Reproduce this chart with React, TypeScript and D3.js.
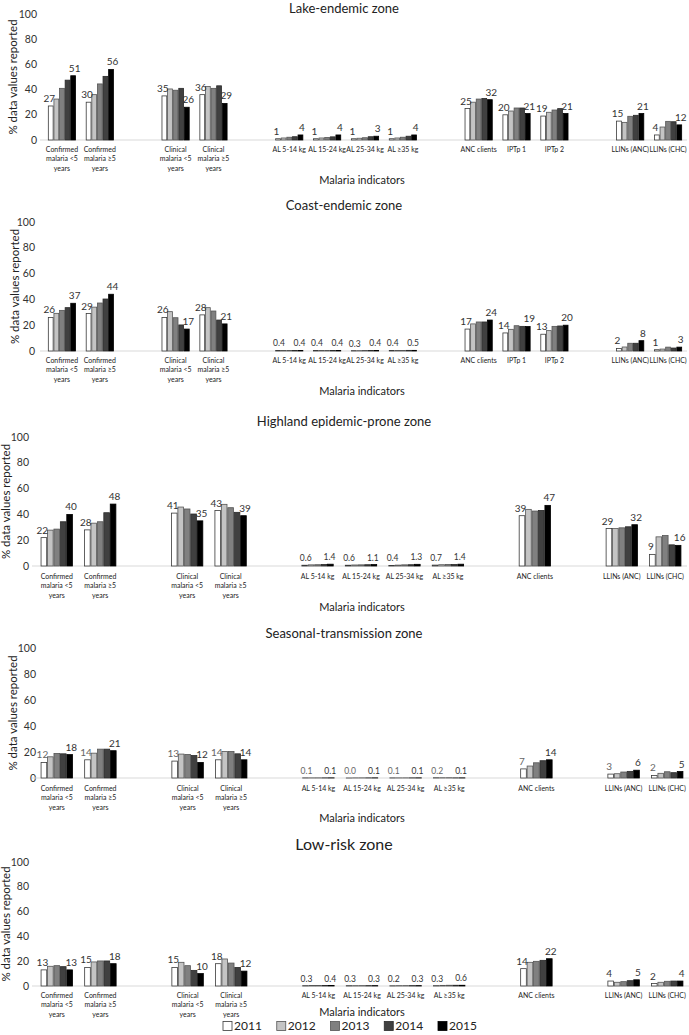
import React from "react";
import * as d3 from "d3";

const years = ["2011", "2012", "2013", "2014", "2015"];
const yearFill = ["#ffffff", "#c4c4c4", "#808080", "#404040", "#000000"];
const yearStroke = ["#3a3a3a", "#555555", "#555555", "#2a2a2a", "#000000"];

// null = gap slot between indicator groups
const categoriesFull: (string | null)[] = [
  "Confirmed\nmalaria <5\nyears", "Confirmed\nmalaria ≥5\nyears", null,
  "Clinical\nmalaria <5\nyears", "Clinical\nmalaria ≥5\nyears", null,
  "AL 5-14 kg", "AL 15-24 kg", "AL 25-34 kg", "AL ≥35 kg", null,
  "ANC clients", "IPTp 1", "IPTp 2", null,
  "LLINs (ANC)", "LLINs (CHC)",
];
const categoriesShort: (string | null)[] = [
  "Confirmed\nmalaria <5\nyears", "Confirmed\nmalaria ≥5\nyears", null,
  "Clinical\nmalaria <5\nyears", "Clinical\nmalaria ≥5\nyears", null,
  "AL 5-14 kg", "AL 15-24 kg", "AL 25-34 kg", "AL ≥35 kg", null,
  "ANC clients", null,
  "LLINs (ANC)", "LLINs (CHC)",
];

const yTicks = [0, 20, 40, 60, 80, 100];

// values per indicator: [2011, 2012, 2013, 2014, 2015]
const lakeValues = [
  [27, 32.5, 41, 47.5, 51], [30, 36, 44.5, 50.5, 56],
  [35, 40.5, 39.5, 41, 26], [36, 42.5, 41, 43, 29],
  [1, 1.6, 2.2, 2.6, 4], [1, 1.6, 2, 2.5, 4], [1, 1.4, 1.8, 2.6, 3], [1, 1.6, 2.2, 3, 4],
  [25, 30, 32.5, 33, 32], [20, 23, 25.4, 25.4, 21], [19, 22, 23.8, 24.9, 21],
  [15, 14, 18.8, 19.6, 21], [4, 10.3, 14.8, 14.5, 12],
];
const coastValues = [
  [26, 29.2, 31.5, 33.6, 37], [29, 34, 37.2, 40.3, 44],
  [26, 30.5, 25.8, 20.2, 17], [28, 33.6, 31, 24, 21],
  [0.4, 0.4, 0.4, 0.4, 0.4], [0.4, 0.4, 0.4, 0.4, 0.4], [0.3, 0.3, 0.4, 0.4, 0.4], [0.4, 0.4, 0.4, 0.5, 0.5],
  [17, 21, 22.5, 22.5, 24], [14, 16.8, 19.6, 19.1, 19], [13, 15.8, 19.1, 19.4, 20],
  [2, 3.1, 6, 6, 8], [1, 1.5, 3, 2.3, 3],
];
const highlandValues = [
  [22, 27.8, 28.6, 34.3, 40], [28, 33.2, 34.3, 41.3, 48],
  [41, 45.7, 44.2, 40.3, 35], [43, 47.8, 45.2, 41.6, 39],
  [0.6, 0.9, 1.0, 1.2, 1.4], [0.6, 0.8, 0.9, 1.0, 1.1], [0.4, 0.7, 0.9, 1.0, 1.3], [0.7, 1.0, 1.2, 1.2, 1.4],
  [39, 43.9, 42.6, 43.1, 47],
  [29, 29, 29.6, 30.4, 32], [9, 22.6, 23.6, 16.4, 16],
];
const seasonalValues = [
  [12, 16.3, 18.9, 18.6, 18], [14, 19.1, 22.2, 22.2, 21],
  [13, 18.4, 18.1, 17.3, 12], [14, 20.4, 20.4, 18.6, 14],
  [0.1, 0.1, 0.1, 0.1, 0.1], [0.0, 0.1, 0.1, 0.1, 0.1], [0.1, 0.1, 0.1, 0.1, 0.1], [0.2, 0.2, 0.2, 0.1, 0.1],
  [7, 9.2, 11.7, 13.3, 14],
  [3, 3.3, 4.6, 5.1, 6], [2, 3.6, 4.8, 4.1, 5],
];
const lowRiskValues = [
  [13, 15.9, 16.4, 15.6, 13], [15, 19.4, 20.2, 20.2, 18],
  [15, 19.1, 16.4, 12.6, 10], [18, 21.8, 18.5, 15, 12],
  [0.3, 0.4, 0.4, 0.4, 0.4], [0.3, 0.3, 0.3, 0.3, 0.3], [0.2, 0.3, 0.3, 0.3, 0.3], [0.3, 0.5, 0.6, 0.6, 0.6],
  [14, 19.1, 19.9, 20.7, 22],
  [4, 3, 3.5, 4.3, 5], [2, 3, 3.8, 4, 4],
];

const FONT = "Lato, 'Open Sans', sans-serif";

const panels = [
  { title: "Lake-endemic zone", values: lakeValues, cats: categoriesFull, alDec: 0, titleY: 8, titleSize: 13, y100: 14, y0: 140, x0: 43, x1: 687, tickX: 37, yLabelX: 13, catY: 149, axisY: 180, labelColor: "#333" },
  { title: "Coast-endemic zone", values: coastValues, cats: categoriesFull, alDec: 1, titleY: 205, titleSize: 13, y100: 222, y0: 351, x0: 43, x1: 687, tickX: 35, yLabelX: 15, catY: 360, axisY: 391, labelColor: "#333" },
  { title: "Highland epidemic-prone zone", values: highlandValues, cats: categoriesShort, alDec: 1, titleY: 421, titleSize: 13, y100: 437, y0: 566, x0: 35, x1: 687, tickX: 29, yLabelX: 6, catY: 576, axisY: 607, labelColor: "#333" },
  { title: "Seasonal-transmission zone", values: seasonalValues, cats: categoriesShort, alDec: 1, titleY: 633, titleSize: 13, y100: 648, y0: 778, x0: 35, x1: 689, tickX: 36, yLabelX: 13, catY: 788, axisY: 818, labelColor: "#666" },
  { title: "Low-risk zone", values: lowRiskValues, cats: categoriesShort, alDec: 1, titleY: 844, titleSize: 16, y100: 862, y0: 986, x0: 35, x1: 689, tickX: 29, yLabelX: 6, catY: 995, axisY: 1012, labelColor: "#333" },
];

function Panel({ p }: { p: typeof panels[number] }) {
  const n = p.cats.length;
  const x = d3.scaleBand<number>().domain(d3.range(n)).range([p.x0, p.x1]).paddingInner(0.26).paddingOuter(0.13);
  const xi = d3.scaleBand<string>().domain(years).range([0, x.bandwidth()]);
  const y = d3.scaleLinear().domain([0, 100]).range([p.y0, p.y100]);
  const idx = p.cats.map((c, i) => (c === null ? -1 : i)).filter((i) => i >= 0);
  const fmtInt = d3.format(".0f");
  const fmtDec = d3.format(".1f");
  const yMid = (p.y0 + p.y100) / 2;
  return (
    <g>
      <text x={344} y={p.titleY} dy="0.35em" textAnchor="middle" fontFamily={FONT} fontSize={p.titleSize} fill="#222">{p.title}</text>
      {yTicks.map((t) => (
        <text key={t} x={p.tickX} y={y(t)} dy="0.35em" textAnchor="end" fontFamily={FONT} fontSize={10.5} fill="#333">{t}</text>
      ))}
      <text transform={`translate(${p.yLabelX},${yMid}) rotate(-90)`} dy="0.35em" textAnchor="middle" fontFamily={FONT} fontSize={11.5} fill="#222">% data values reported</text>
      <line x1={p.x0 - 3} x2={p.x1} y1={p.y0} y2={p.y0} stroke="#d9d9d9" strokeWidth={1} />
      {idx.map((ci, k) => {
        const vals = p.values[k];
        const label = p.cats[ci] as string;
        const isAL = label.startsWith("AL");
        const dec = isAL && p.alDec === 1;
        const fmt = dec ? fmtDec : fmtInt;
        const lblSize = dec ? 8.5 : 10;
        const off = dec ? -1 : 1.5;
        const bx = x(ci) as number;
        return (
          <g key={ci}>
            {vals.map((v, j) => {
              const top = y(v);
              return (
                <rect key={j} x={bx + (xi(years[j]) as number) + 0.4} y={top} width={xi.bandwidth() - 0.8} height={Math.max(0.01, p.y0 - top)}
                  fill={yearFill[j]} stroke={yearStroke[j]} strokeWidth={0.8} />
              );
            })}
            <text x={bx + (xi(years[0]) as number) + xi.bandwidth() / 2 - off} y={y(vals[0]) - 4} textAnchor="middle" fontFamily={FONT} fontSize={lblSize} fill={p.labelColor}>{fmt(vals[0])}</text>
            <text x={bx + (xi(years[4]) as number) + xi.bandwidth() / 2 + off} y={y(vals[4]) - 4} textAnchor="middle" fontFamily={FONT} fontSize={lblSize} fill="#333">{fmt(vals[4])}</text>
            {label.split("\n").map((line, li) => (
              <text key={li} transform={`translate(${bx + x.bandwidth() / 2},${p.catY + li * 9.5}) scale(0.82,1)`} dy="0.35em" textAnchor="middle" fontFamily={FONT} fontSize={8.5} fill="#222">{line}</text>
            ))}
          </g>
        );
      })}
      <text x={362} y={p.axisY} dy="0.35em" textAnchor="middle" fontFamily={FONT} fontSize={11} fill="#222">Malaria indicators</text>
    </g>
  );
}

export default function App() {
  const legendX = d3.scalePoint<string>().domain(years).range([223, 438]);
  return (
    <svg width={689} height={1035} style={{ position: "absolute", left: 0, top: 0, background: "#fff" }}>
      <rect width={689} height={1035} fill="#fff" />
      {panels.map((p, i) => <Panel key={i} p={p} />)}
      {years.map((yr, j) => (
        <g key={yr} transform={`translate(${legendX(yr)},1026)`}>
          <rect x={0} y={-4.5} width={9} height={9} fill={yearFill[j]} stroke={yearStroke[j]} strokeWidth={0.8} />
          <text x={11} y={0} dy="0.35em" fontFamily={FONT} fontSize={12} fill="#222">{yr}</text>
        </g>
      ))}
    </svg>
  );
}
